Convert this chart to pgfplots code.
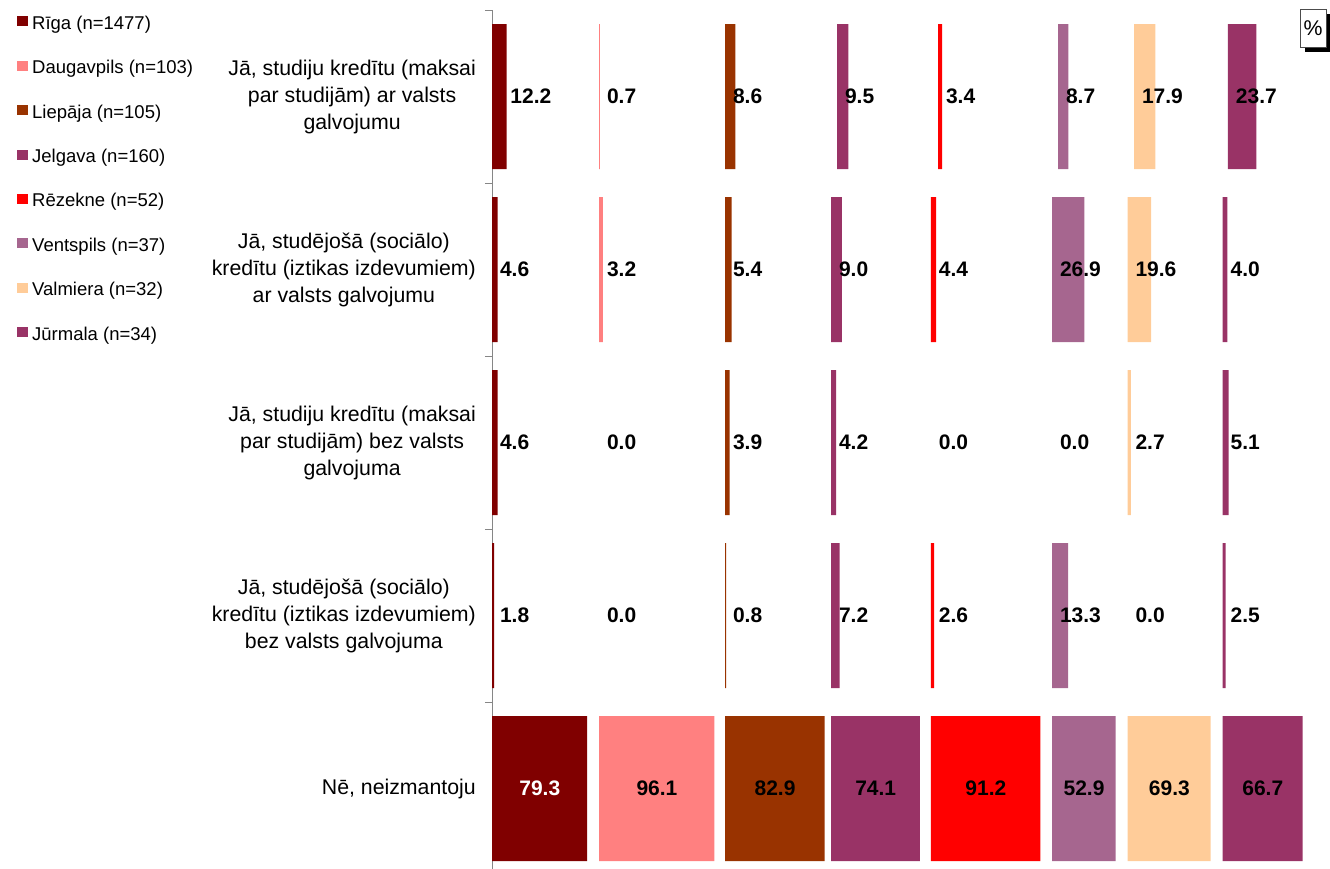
\documentclass[border=0pt]{standalone}
\usepackage{pgfplots}
\pgfplotsset{compat=1.18}
\usepackage{pgfplotstable}
\usepackage{fontspec}
\setmainfont{Liberation Sans}
\usetikzlibrary{shadows}

\definecolor{cR}{HTML}{800000}
\definecolor{cD}{HTML}{FF8080}
\definecolor{cL}{HTML}{993300}
\definecolor{cJ}{HTML}{993366}
\definecolor{cRz}{HTML}{FF0000}
\definecolor{cV}{HTML}{A6668F}
\definecolor{cVa}{HTML}{FFCC99}
\definecolor{cJu}{HTML}{993366}
\definecolor{axgray}{HTML}{868686}

\newcommand{\vfont}{\fontsize{21}{25}\selectfont\bfseries}
\newcommand{\cfont}{\fontsize{21.3}{27}\selectfont}
\newcommand{\lfont}{\fontsize{18.5}{21}\selectfont}

% values (%) for each city, rows top to bottom; s* = left edge of each city's bar (layout)
\pgfplotstableread{
row R    D    L    J    Rz   V    Va   Ju   sD   sL    sJ    sRz   sV    sVa   sJu
0   12.2 0.7  8.6  9.5  3.4  8.7  17.9 23.7 89.2 194.2 287.5 371.7 471.7 535.0 613.3
1   4.6  3.2  5.4  9.0  4.4  26.9 19.6 4.0  89.2 194.2 282.5 365.8 466.7 529.6 608.8
2   4.6  0.0  3.9  4.2  0.0  0.0  2.7  5.1  89.2 194.2 282.5 365.8 466.7 529.6 608.8
3   1.8  0.0  0.8  7.2  2.6  13.3 0.0  2.5  89.2 194.2 282.5 365.8 466.7 529.6 608.8
4   79.3 96.1 82.9 74.1 91.2 52.9 69.3 66.7 89.2 194.2 282.5 365.8 466.7 529.6 608.8
}\data

\pgfplotsset{
  common/.style={
    at={(492pt,-10pt)}, anchor=north west,
    scale only axis, width=840pt, height=865pt,
    xmin=0, xmax=700, ymin=-0.5, ymax=4.5, y dir=reverse,
    enlargelimits=false, clip=false,
  },
  spacer/.style={forget plot, draw=none, fill=none},
  lab/.style={draw=none, mark=none, nodes near coords,
    point meta=explicit symbolic,
    every node near coord/.append style={anchor=west, inner sep=0pt, font=\vfont, text=black}},
}

\begin{document}
\begin{tikzpicture}
\begin{axis}[common,
  xbar stacked, bar width=145pt,
  axis x line=none, axis y line*=left,
  axis line style={axgray, line width=1pt},
  ytick={0,1,2,3,4},
  yticklabels={{Jā, studiju kredītu (maksai\\par studijām) ar valsts\\galvojumu},
               {Jā, studējošā (sociālo)\\kredītu (iztikas izdevumiem)\\ar valsts galvojumu},
               {Jā, studiju kredītu (maksai\\par studijām) bez valsts\\galvojuma},
               {Jā, studējošā (sociālo)\\kredītu (iztikas izdevumiem)\\bez valsts galvojuma},
               {Nē, neizmantoju}},
  yticklabel style={align=center, font=\cfont, inner sep=0pt, xshift=-16pt},
  major tick length=0pt,
  minor ytick={-0.5,0.5,1.5,2.5,3.5,4.5},
  minor tick length=7pt, tick align=outside,
  minor tick style={axgray, line width=1pt},
  legend style={at={(0,1)}, anchor=north west, xshift=-475pt, yshift=-6.1pt,
    draw=none, fill=none, font=\lfont, inner sep=0pt,
    nodes={inner sep=0pt, text height=13pt, text depth=4pt},
    row sep=27.4pt,
    /tikz/every odd column/.append style={column sep=4.5pt}},
  legend cell align=left,
  legend image code/.code={\fill[#1,draw=none] (0pt,-1.5pt) rectangle (10.5pt,8.5pt);},
]
\addplot[fill=cR, draw=none] table[x=R, y=row]{\data};
\addlegendentry{Rīga (n=1477)}
\addplot[spacer] table[x expr=\thisrow{sD}-\thisrow{R}, y=row]{\data};
\addplot[fill=cD, draw=none] table[x=D, y=row]{\data};
\addlegendentry{Daugavpils (n=103)}
\addplot[spacer] table[x expr=\thisrow{sL}-\thisrow{sD}-\thisrow{D}, y=row]{\data};
\addplot[fill=cL, draw=none] table[x=L, y=row]{\data};
\addlegendentry{Liepāja (n=105)}
\addplot[spacer] table[x expr=\thisrow{sJ}-\thisrow{sL}-\thisrow{L}, y=row]{\data};
\addplot[fill=cJ, draw=none] table[x=J, y=row]{\data};
\addlegendentry{Jelgava (n=160)}
\addplot[spacer] table[x expr=\thisrow{sRz}-\thisrow{sJ}-\thisrow{J}, y=row]{\data};
\addplot[fill=cRz, draw=none] table[x=Rz, y=row]{\data};
\addlegendentry{Rēzekne (n=52)}
\addplot[spacer] table[x expr=\thisrow{sV}-\thisrow{sRz}-\thisrow{Rz}, y=row]{\data};
\addplot[fill=cV, draw=none] table[x=V, y=row]{\data};
\addlegendentry{Ventspils (n=37)}
\addplot[spacer] table[x expr=\thisrow{sVa}-\thisrow{sV}-\thisrow{V}, y=row]{\data};
\addplot[fill=cVa, draw=none] table[x=Va, y=row]{\data};
\addlegendentry{Valmiera (n=32)}
\addplot[spacer] table[x expr=\thisrow{sJu}-\thisrow{sVa}-\thisrow{Va}, y=row]{\data};
\addplot[fill=cJu, draw=none] table[x=Ju, y=row]{\data};
\addlegendentry{Jūrmala (n=34)}
\end{axis}

% value labels
\begin{axis}[common, hide axis]
\addplot[lab, skip coords between index={4}{5}] table[x expr={ifthenelse(\thisrow{row}==0,15.2,6.5)}, y=row, meta=R]{\data};
\addplot[lab, skip coords between index={0}{4}, every node near coord/.append style={text=white}] table[x expr={\thisrow{R}/2-17}, y=row, meta=R]{\data};
\addplot[lab] table[x expr={ifthenelse(\thisrow{row}==4,\thisrow{sD}+\thisrow{D}/2-17,\thisrow{sD}+6.5)}, y=row, meta=D]{\data};
\addplot[lab] table[x expr={ifthenelse(\thisrow{row}==4,\thisrow{sL}+\thisrow{L}/2-17,\thisrow{sL}+6.5)}, y=row, meta=L]{\data};
\addplot[lab] table[x expr={ifthenelse(\thisrow{row}==4,\thisrow{sJ}+\thisrow{J}/2-17,\thisrow{sJ}+6.5)}, y=row, meta=J]{\data};
\addplot[lab] table[x expr={ifthenelse(\thisrow{row}==4,\thisrow{sRz}+\thisrow{Rz}/2-17,\thisrow{sRz}+6.5)}, y=row, meta=Rz]{\data};
\addplot[lab] table[x expr={ifthenelse(\thisrow{row}==4,\thisrow{sV}+\thisrow{V}/2-17,\thisrow{sV}+6.5)}, y=row, meta=V]{\data};
\addplot[lab] table[x expr={ifthenelse(\thisrow{row}==4,\thisrow{sVa}+\thisrow{Va}/2-17,\thisrow{sVa}+6.5)}, y=row, meta=Va]{\data};
\addplot[lab] table[x expr={ifthenelse(\thisrow{row}==4,\thisrow{sJu}+\thisrow{Ju}/2-17,\thisrow{sJu}+6.5)}, y=row, meta=Ju]{\data};
\end{axis}

\node[draw=black!70, line width=1pt, fill=white, minimum width=26pt, minimum height=38pt,
      inner sep=0pt, general shadow={fill=black, shadow xshift=5pt, shadow yshift=-5pt},
      font=\cfont] at (1313pt,-28pt) {\%};

\pgfresetboundingbox
\useasboundingbox (0pt,0pt) rectangle (1330pt,-868pt);
\end{tikzpicture}
\end{document}
